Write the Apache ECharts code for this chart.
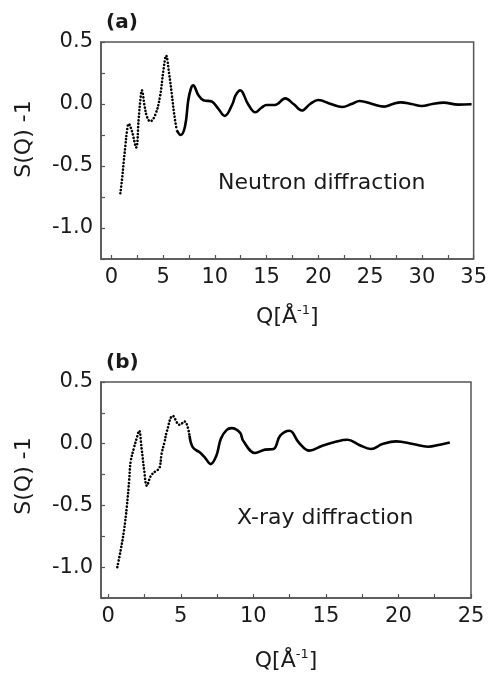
<!DOCTYPE html>
<html>
<head>
<meta charset="utf-8">
<script src="https://cdn.jsdelivr.net/npm/echarts@6/dist/echarts.min.js"></script>
<style>html,body{margin:0;padding:0;background:#fff;}#c{width:490px;height:675px;}</style>
</head>
<body>
<div id="c"></div>
<script>
// Neutron diffraction, S(Q)-1 vs Q (Å^-1)
const neutronQ = [0.87, 1.03, 1.19, 1.35, 1.51, 1.67, 1.99, 2.4, 2.63, 2.79, 2.95, 3.2, 3.43, 3.75, 4.23, 4.7, 5.03, 5.29, 5.58, 5.83, 6.06, 6.31, 6.7, 7.12, 7.43, 7.69, 7.9, 8.4, 8.9, 9.7, 10.3, 10.96, 11.7, 12.0, 12.45, 13.2, 13.9, 14.5, 15.0, 15.8, 16.8, 17.6, 18.4, 19.2, 20.0, 21.2, 22.3, 23.2, 24.0, 25.2, 26.35, 27.2, 27.95, 29.0, 30.0, 31.0, 32.1, 33.5, 34.8];
const neutronS = [-0.72, -0.61, -0.47, -0.34, -0.22, -0.16, -0.22, -0.35, -0.13, 0.02, 0.11, -0.01, -0.10, -0.14, -0.09, 0.06, 0.27, 0.39, 0.245, 0.085, -0.075, -0.21, -0.25, -0.18, 0.03, 0.125, 0.15, 0.072, 0.03, 0.02, -0.035, -0.096, 0.0, 0.07, 0.11, 0.0, -0.067, -0.03, -0.008, -0.008, 0.045, 0.0, -0.053, 0.0, 0.032, 0.0, -0.024, 0.0, 0.024, 0.0, -0.021, 0.0, 0.013, 0.0, -0.016, 0.0, 0.011, -0.005, -0.002];
// X-ray diffraction
const xrayQ = [0.625, 0.86, 1.09, 1.28, 1.44, 1.55, 1.78, 1.95, 2.13, 2.29, 2.48, 2.66, 2.94, 3.29, 3.52, 3.68, 3.87, 4.05, 4.45, 4.91, 5.26, 5.6, 5.83, 6.3, 6.65, 7.06, 7.45, 7.76, 8.15, 8.5, 9.08, 9.3, 10.12, 10.81, 11.39, 11.85, 12.5, 13.13, 13.87, 14.75, 15.67, 16.48, 17.3, 18.1, 18.9, 19.84, 21.0, 22.04, 22.85, 23.54];
const xrayS = [-1.0, -0.86, -0.70, -0.51, -0.30, -0.14, -0.03, 0.04, 0.105, -0.03, -0.22, -0.34, -0.26, -0.22, -0.20, -0.08, 0.01, 0.105, 0.225, 0.153, 0.18, 0.065, -0.03, -0.07, -0.11, -0.165, -0.097, 0.04, 0.11, 0.126, 0.09, 0.024, -0.075, -0.048, -0.043, 0.065, 0.105, 0.01, -0.056, -0.016, 0.016, 0.032, -0.01, -0.043, -0.003, 0.019, -0.003, -0.024, -0.008, 0.01];

const topXTicks = [0, 2.5, 5, 7.5, 10, 12.5, 15, 17.5, 20, 22.5, 25, 27.5, 30, 32.5, 35];
const topXLabels = [0, 5, 10, 15, 20, 25, 30, 35];
const botXTicks = [0, 2.5, 5, 7.5, 10, 12.5, 15, 17.5, 20, 22.5, 25];
const botXLabels = [0, 5, 10, 15, 20, 25];
const yLabels = [-1.0, -0.5, 0.0, 0.5];

const FONT = 'DejaVu Sans';
const DOT_LIMIT_TOP = 6.5;
const DOT_LIMIT_BOT = 5.8;

function pairs(q, s, lo, hi) {
  const out = [];
  for (let i = 0; i < q.length; i++) if (q[i] >= lo && q[i] <= hi) out.push([q[i], s[i]]);
  return out;
}

function xAxis(idx, min, max, ticks, labels, gap) {
  return {
    type: 'value', gridIndex: idx, min: min, max: max,
    axisLine: {show: true, onZero: false, lineStyle: {color: '#555', width: 1.5}},
    axisTick: {show: true, inside: true, length: 4, customValues: ticks, lineStyle: {color: '#555', width: 1.2}},
    axisLabel: {customValues: labels, color: '#1a1a1a', fontSize: 21, fontFamily: FONT, margin: 8},
    splitLine: {show: false},
    name: 'Q[Å{sup|-1}]', nameLocation: 'middle', nameGap: gap,
    nameTextStyle: {color: '#1a1a1a', fontSize: 22, fontFamily: FONT, lineHeight: 26,
      rich: {sup: {fontSize: 13, fontFamily: FONT, color: '#1a1a1a', verticalAlign: 'top', lineHeight: 26, padding: [0, 0, 8, 0]}}}
  };
}
function yAxis(idx) {
  return {
    type: 'value', gridIndex: idx, min: -1.25, max: 0.5, interval: 0.25,
    axisLine: {show: true, onZero: false, lineStyle: {color: '#555', width: 1.5}},
    axisTick: {show: true, inside: true, length: 4, lineStyle: {color: '#555', width: 1.2}},
    axisLabel: {customValues: yLabels, color: '#1a1a1a', fontSize: 21, fontFamily: FONT, margin: 8,
      formatter: v => v.toFixed(1)},
    splitLine: {show: false}
  };
}
function curve(idx, data, dotted) {
  return {
    type: 'line', xAxisIndex: idx, yAxisIndex: idx, data: data,
    smooth: 0.4, showSymbol: false, symbol: 'none',
    lineStyle: dotted ? {color: '#000', width: 2.6, type: [0.1, 3.3], cap: 'round'} : {color: '#000', width: 2.6},
    animation: false, silent: true
  };
}

const chart = echarts.init(document.getElementById('c'), null, {renderer: 'canvas'});
chart.setOption({
  backgroundColor: '#fff',
  animation: false,
  grid: [
    {left: 101, top: 42, width: 373, height: 217, show: true, borderColor: '#555', borderWidth: 1.5, containLabel: false},
    {left: 101, top: 382, width: 370, height: 216, show: true, borderColor: '#555', borderWidth: 1.5, containLabel: false}
  ],
  xAxis: [xAxis(0, -1, 35, topXTicks, topXLabels, 45), xAxis(1, -0.5, 25, botXTicks, botXLabels, 50)],
  yAxis: [yAxis(0), yAxis(1)],
  series: [
    curve(0, pairs(neutronQ, neutronS, -10, DOT_LIMIT_TOP), true),
    curve(0, pairs(neutronQ, neutronS, DOT_LIMIT_TOP - 0.3, 100), false),
    curve(1, pairs(xrayQ, xrayS, -10, DOT_LIMIT_BOT), true),
    curve(1, pairs(xrayQ, xrayS, DOT_LIMIT_BOT - 0.3, 100), false)
  ],
  graphic: [
    {type: 'text', x: 106, y: 23, style: {text: '(a)', font: 'bold 20px "DejaVu Sans"', fill: '#1a1a1a', textAlign: 'left', textVerticalAlign: 'middle'}},
    {type: 'text', x: 106, y: 363, style: {text: '(b)', font: 'bold 20px "DejaVu Sans"', fill: '#1a1a1a', textAlign: 'left', textVerticalAlign: 'middle'}},
    {type: 'text', x: 218, y: 183, style: {text: 'Neutron diffraction', font: '22px "DejaVu Sans"', fill: '#1a1a1a', textAlign: 'left', textVerticalAlign: 'middle'}},
    {type: 'text', x: 237, y: 518, style: {text: 'X-ray diffraction', font: '22px "DejaVu Sans"', fill: '#1a1a1a', textAlign: 'left', textVerticalAlign: 'middle'}},
    {type: 'text', x: 24, y: 139, rotation: Math.PI / 2, style: {text: 'S(Q) -1', font: '22px "DejaVu Sans"', fill: '#1a1a1a', textAlign: 'center', textVerticalAlign: 'middle'}},
    {type: 'text', x: 24, y: 476, rotation: Math.PI / 2, style: {text: 'S(Q) -1', font: '22px "DejaVu Sans"', fill: '#1a1a1a', textAlign: 'center', textVerticalAlign: 'middle'}}
  ]
});
</script>
</body>
</html>
